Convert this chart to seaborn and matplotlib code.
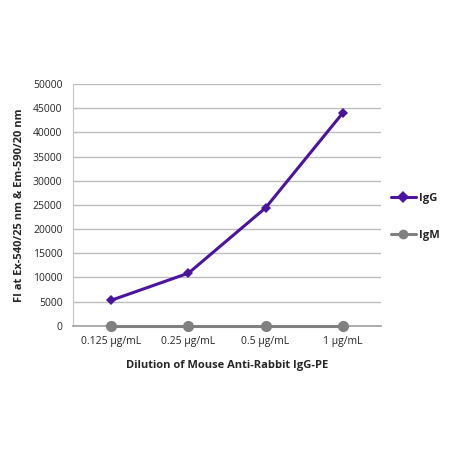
import numpy as np
import pandas as pd
import seaborn as sns
import matplotlib.pyplot as plt

# data
konsentrasi = ['0.125 µg/mL', '0.25 µg/mL', '0.5 µg/mL', '1 µg/mL']
igg = [5300, 10900, 24400, 44000]
igm = [0, 0, 0, 0]

df = pd.DataFrame({
    'konsentrasi': konsentrasi * 2,
    'FI': igg + igm,
    'seri': ['IgG'] * 4 + ['IgM'] * 4,
})

sns.set_style('white')
plt.rcParams['font.family'] = ['Open Sans', 'DejaVu Sans']

fig = plt.figure(figsize=(4.5, 4.5), dpi=100)
ax = fig.add_axes([0.162, 0.276, 0.685, 0.537])

warna = {'IgG': '#4b149c', 'IgM': '#808080'}
sns.lineplot(data=df, x='konsentrasi', y='FI', hue='seri', style='seri',
             markers={'IgG': 'D', 'IgM': 'o'}, dashes=False, palette=warna,
             linewidth=2.2, markersize=6, markeredgewidth=0, ax=ax, sort=False)

# IgG: marker kecil, IgM: marker bulat lebih besar, jangan dipotong sumbu
ax.lines[0].set_markersize(5)
ax.lines[1].set_markersize(8)
for line in ax.lines[:2]:
    line.set_clip_on(False)
    line.set_zorder(5)

ax.set_ylim(0, 50000)
ax.set_xlim(-0.5, 3.5)
ax.set_yticks(np.arange(0, 50001, 5000))
ax.yaxis.grid(True, color='#bdbdbd', linewidth=1)
ax.set_axisbelow(True)

for s in ['top', 'right']:
    ax.spines[s].set_visible(False)
ax.spines['left'].set_color('#c8c8c8')
ax.spines['bottom'].set_color('#a0a0a0')
ax.spines['bottom'].set_linewidth(1.2)

ax.set_xticks(range(4))
ax.set_xticklabels(konsentrasi)
ax.set_xticks(np.arange(-0.5, 4, 1), minor=True)
ax.tick_params(axis='x', which='major', length=0, labelsize=7.5, pad=7)
ax.tick_params(axis='x', which='minor', length=4, color='#a0a0a0', direction='out')
ax.tick_params(axis='y', length=4, color='#c8c8c8', labelsize=7.5, direction='out')

ax.set_xlabel('Dilution of Mouse Anti-Rabbit IgG-PE', fontsize=8, fontweight='bold', labelpad=10)
ax.set_ylabel('FI at Ex-540/25 nm & Em-590/20 nm', fontsize=8, fontweight='bold', labelpad=6)

h, l = ax.get_legend_handles_labels()
leg = ax.legend(h, l, loc='center left', bbox_to_anchor=(1.0, 0.45), frameon=False,
                prop={'weight': 'bold', 'size': 8}, handlelength=2.2,
                labelspacing=2.3, handletextpad=0.3)
leg.legend_handles[1].set_markersize(7)

fig.savefig('out.png', dpi=100)
